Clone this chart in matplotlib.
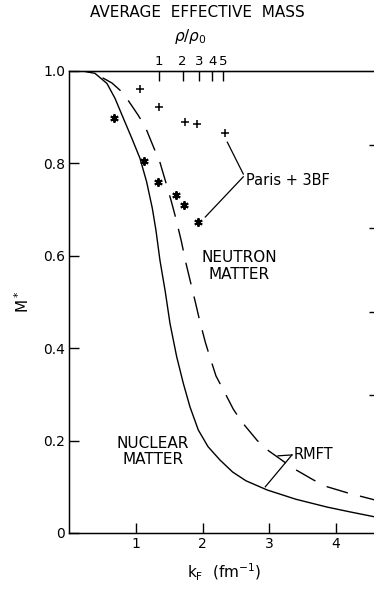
import numpy as np
import matplotlib
matplotlib.use('Agg')
import matplotlib.pyplot as plt

# nuclear matter (solid) and neutron matter (dashed), RMFT
kf_nuclear = [0.0, 0.2, 0.384, 0.565, 0.685, 0.81, 0.936, 1.06, 1.16, 1.245, 1.3, 1.36, 1.44,
              1.51, 1.61, 1.71, 1.81, 1.935, 2.08, 2.26, 2.45, 2.65, 2.97, 3.4, 3.87, 4.2, 4.65]
m_nuclear = [1.0, 1.0, 0.995, 0.973, 0.941, 0.898, 0.855, 0.811, 0.76, 0.703, 0.655, 0.59, 0.522,
             0.454, 0.382, 0.324, 0.273, 0.223, 0.187, 0.158, 0.132, 0.113, 0.093, 0.073, 0.056,
             0.046, 0.033]

kf_neutron = [0.0, 0.25, 0.39, 0.64, 0.81, 1.03, 1.14, 1.27, 1.35, 1.45, 1.53, 1.6, 1.68, 1.75,
              1.81, 1.9, 1.95, 2.04, 2.1, 2.2, 2.31, 2.46, 2.59, 2.82, 2.97, 3.36, 3.66, 3.87,
              4.17, 4.65]
m_neutron = [1.0, 1.0, 0.994, 0.974, 0.952, 0.905, 0.879, 0.833, 0.807, 0.758, 0.718, 0.68, 0.632,
             0.584, 0.548, 0.494, 0.463, 0.413, 0.385, 0.34, 0.31, 0.268, 0.24, 0.2, 0.18, 0.14,
             0.115, 0.1, 0.087, 0.069]

# Paris + 3BF points
kf_plus = [1.06, 1.35, 1.74, 1.92, 2.34]
m_plus = [0.961, 0.922, 0.89, 0.885, 0.866]
kf_star = [0.67, 1.12, 1.33, 1.60, 1.72, 1.93]
m_star = [0.898, 0.805, 0.76, 0.732, 0.71, 0.673]

rho_ticks = [1, 2, 3, 4, 5]
kf_sat = 1.35

fig = plt.figure(figsize=(3.74, 5.89), dpi=100)
ax = fig.add_axes([69.3 / 374, 56 / 589, 310 / 374, 462 / 589])

ax.plot(kf_nuclear, m_nuclear, color='black', lw=1.0)
ax.plot(kf_neutron, m_neutron, color='black', lw=1.0, dashes=(16, 9))
ax.plot(kf_plus, m_plus, ls='none', marker='+', ms=6, mew=1.1, color='black')
ax.plot(kf_star, m_star, ls='none', marker=(6, 2, 0), ms=6, mew=1.4, color='black')

ax.set_xlim(0, 4.65)
ax.set_ylim(0, 1.0)
ax.set_xticks([1, 2, 3, 4])
ax.set_yticks([0, 0.2, 0.4, 0.6, 0.8, 1.0])
ax.set_yticklabels(['0', '0.2', '0.4', '0.6', '0.8', '1.0'])
ax.tick_params(direction='in', length=7, width=1.0, labelsize=10, pad=3)
for s in ax.spines.values():
    s.set_linewidth(1.0)

# unlabeled ticks on the right edge
axr = ax.twinx()
axr.set_ylim(0, 1.0)
axr.set_yticks([0.299, 0.478, 0.66, 0.84])
axr.set_yticklabels([])
axr.tick_params(direction='in', length=7, width=1.0)

# density scale on top
top = ax.secondary_xaxis('top')
top.set_xticks([kf_sat * r ** (1 / 3) for r in rho_ticks])
top.set_xticklabels([str(r) for r in rho_ticks])
top.tick_params(direction='in', length=7, width=1.0, labelsize=9.5, pad=2)
fig.text(190 / 374, 1 - 37 / 589, r'$\rho/\rho_0$', ha='center', va='center', fontsize=11)

ax.set_xlabel(r'$\mathregular{k_F\ \ (fm^{-1})}$', fontsize=11, labelpad=8)
ax.set_ylabel(r'$\mathregular{M^*}$', fontsize=11, labelpad=8)
fig.text(0.527, 0.978, 'AVERAGE  EFFECTIVE  MASS', ha='center', va='center', fontsize=11)

ax.text(2.65, 0.764, 'Paris + 3BF', fontsize=10.5, va='center', ha='left')
ax.plot([2.37, 2.61], [0.846, 0.777], color='black', lw=0.9)
ax.plot([2.04, 2.61], [0.684, 0.771], color='black', lw=0.9)

ax.text(3.36, 0.169, 'RMFT', fontsize=10.5, va='center', ha='left')
ax.plot([3.13, 3.34], [0.167, 0.169], color='black', lw=0.9)
ax.plot([2.94, 3.34], [0.10, 0.169], color='black', lw=0.9)

ax.text(2.55, 0.578, 'NEUTRON\nMATTER', fontsize=11, ha='center', va='center', linespacing=1.1)
ax.text(1.25, 0.177, 'NUCLEAR\nMATTER', fontsize=11, ha='center', va='center', linespacing=1.1)

fig.savefig('out.png', dpi=100)
